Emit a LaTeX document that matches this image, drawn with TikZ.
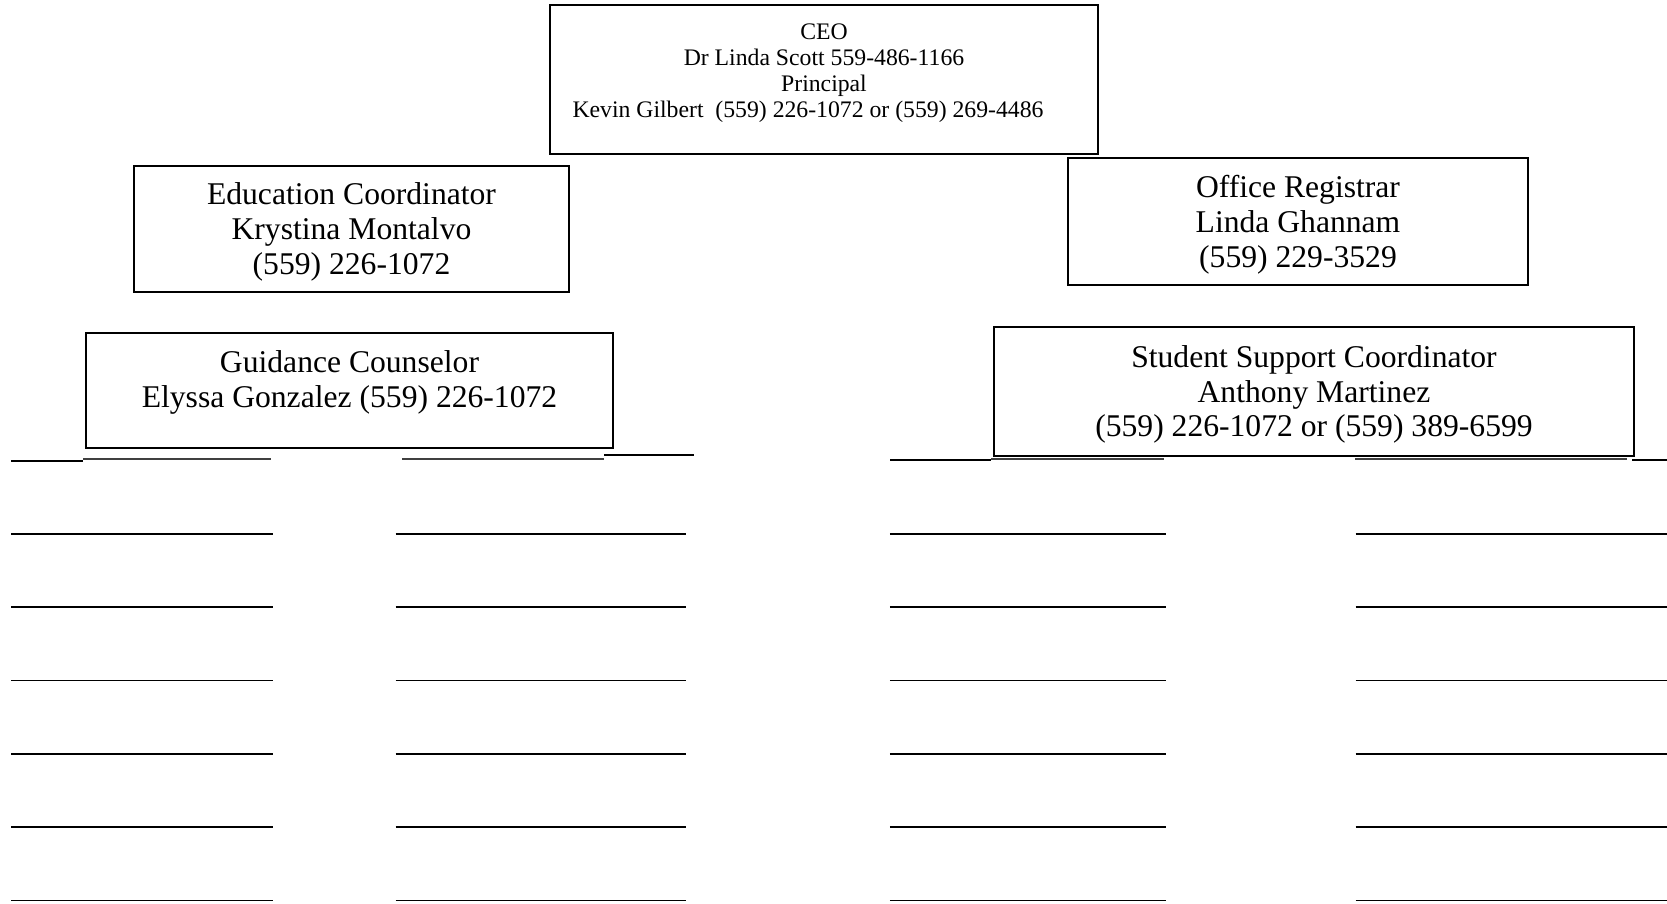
\documentclass[tikz,border=0pt]{standalone}
\usepackage{fontspec}
\setmainfont{Liberation Serif}

\begin{document}
\begin{tikzpicture}[x=0.02cm,y=-0.02cm,
    box/.style={rectangle,draw,line width=1pt,inner sep=0pt},
    big/.style={align=center,font=\fontsize{18}{19.85}\selectfont},
    small/.style={align=center,font=\fontsize{13.5}{14.8}\selectfont},
    blank/.style={line width=1pt},
    under/.style={line width=0.8pt,black!75}]
\useasboundingbox (0,0) rectangle (1667,903);

\node[box,minimum width=10.96cm,minimum height=2.98cm] (ceo) at (824,79.5) {};
\node[small] (ceotext) at ([yshift=0.13cm]ceo.center) {CEO\\Dr Linda Scott 559-486-1166\\Principal\\Kevin Gilbert\ \ (559) 226-1072 or (559) 269-4486\hspace*{0.64cm}};

\node[box,minimum width=8.7cm,minimum height=2.52cm] (edu) at (351.5,229) {};
\node[big] (edutext) at ([yshift=-0.06cm]edu.center) {Education Coordinator\\Krystina Montalvo\\(559) 226-1072};
\node[box,minimum width=9.2cm,minimum height=2.54cm] (reg) at (1298,221.5) {};
\node[big] (regtext) at ([yshift=-0.06cm]reg.center) {Office Registrar\\Linda Ghannam\\(559) 229-3529};

\node[box,minimum width=10.54cm,minimum height=2.3cm] (gc) at (349.5,390.5) {};
\node[big] (gctext) at ([yshift=0.17cm]gc.center) {Guidance Counselor\\Elyssa Gonzalez (559) 226-1072};
\node[box,minimum width=12.8cm,minimum height=2.58cm] (ssc) at (1314,391.5) {};
\node[big] (ssctext) at ([yshift=-0.06cm]ssc.center) {Student Support Coordinator\\Anthony Martinez\\(559) 226-1072 or (559) 389-6599};

% first row of blanks, under the boxes
\draw[blank] (11,461) -- (83,461);
\draw[under] (83,459) -- (271,459);
\draw[under] (402,459) -- (604,459);
\draw[blank] (604,455) -- (694,455);
\draw[blank] (890,460) -- (991,460);
\draw[under] (991,459) -- (1164,459);
\draw[under] (1355,459) -- (1627,459);
\draw[blank] (1632,460) -- (1667,460);

% the other rows
\foreach \y in {533.7,607,680.4,753.7,827,900.4}{
  \draw[blank] (11,\y) -- (273,\y);
  \draw[blank] (395.5,\y) -- (685.7,\y);
  \draw[blank] (889.8,\y) -- (1166,\y);
  \draw[blank] (1355.5,\y) -- (1667,\y);
}

\end{tikzpicture}
\end{document}
